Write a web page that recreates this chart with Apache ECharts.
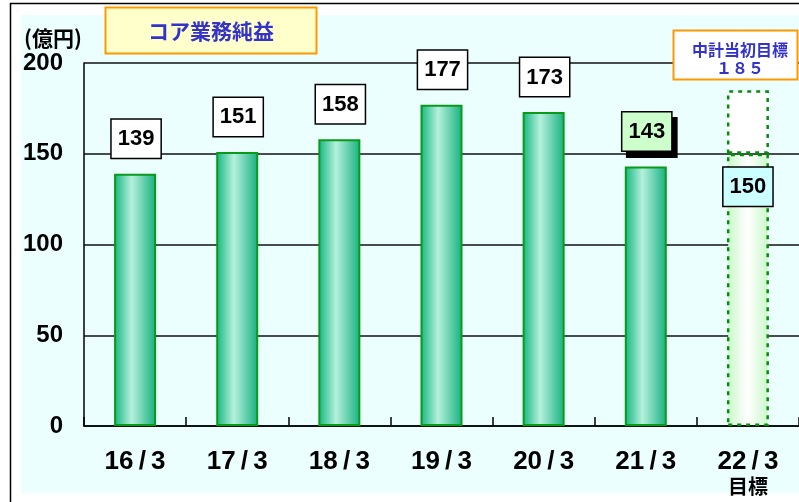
<!DOCTYPE html>
<html>
<head>
<meta charset="utf-8">
<script src="https://cdn.jsdelivr.net/npm/echarts@6/dist/echarts.min.js"></script>
<style>
html,body{margin:0;padding:0;background:#fff;}
#c{width:799px;height:502px;}
</style>
</head>
<body>
<div id="c"></div>
<script>
// ---- data ----
const categories = ['16/3', '17/3', '18/3', '19/3', '20/3', '21/3', '22/3'];
const actual = [139, 151, 158, 177, 173, 143, null];
const target = [null, null, null, null, null, null, 150];
const initialPlan = [null, null, null, null, null, null, 185];
const yTicks = [0, 50, 100, 150, 200];
const unitLabel = '(億円)';
const titleText = 'コア業務純益';
const planTitle = '中計当初目標';
const planValueText = '１８５';
const targetNote = '目標';

const FONT = '"Liberation Sans", Arial, sans-serif';
const CJK = '"Noto Sans CJK JP", "Liberation Sans", sans-serif';

const chart = echarts.init(document.getElementById('c'), null, {renderer: 'canvas'});

const barGrad = new echarts.graphic.LinearGradient(0, 0, 1, 0, [
  {offset: 0, color: '#12B67E'},
  {offset: 0.42, color: '#B6F0DD'},
  {offset: 1, color: '#14B07E'}
]);
const targetGrad = new echarts.graphic.LinearGradient(0, 0, 1, 0, [
  {offset: 0, color: '#C8F8C8'},
  {offset: 0.5, color: '#FFFFFF'},
  {offset: 1, color: '#C8F8C8'}
]);

const boxLabel = {
  show: true,
  position: 'top',
  distance: 16,
  offset: [1, 0],
  color: '#000',
  fontFamily: FONT,
  fontWeight: 'bold',
  fontSize: 22,
  lineHeight: 23,
  backgroundColor: '#FFFFFF',
  borderColor: '#000',
  borderWidth: 1.5,
  padding: [8, 6, 7, 6]
};

const lastActualIdx = actual.reduce((a, v, i) => (v != null ? i : a), -1);

const actualData = actual.map((v, i) => {
  if (v == null) return '-';
  if (i === lastActualIdx) {
    return {
      value: v,
      label: {backgroundColor: '#CCFFCC', shadowColor: '#000', shadowOffsetX: 5, shadowOffsetY: 6, shadowBlur: 0}
    };
  }
  return v;
});
const targetData = target.map(v => (v == null ? '-' : v));
const planData = initialPlan.map((v, i) => (v == null || target[i] == null ? '-' : v - target[i]));

const option = {
  animation: false,
  backgroundColor: '#FFFFFF',
  graphic: [
    {type: 'rect', z: -100, shape: {x: 10.5, y: 3.5, width: 820, height: 520}, style: {fill: '#FFFFFF', stroke: '#000', lineWidth: 1.5}, silent: true},
    {type: 'rect', z: -99, shape: {x: 21, y: 15, width: 800, height: 478}, style: {fill: '#EAFFFE'}, silent: true},
    {type: 'rect', z: 100, shape: {x: 105.5, y: 7.5, width: 211, height: 46}, style: {fill: '#FFFFCC', stroke: '#FF9900', lineWidth: 2}},
    {type: 'text', z: 101, x: 211, y: 31, style: {text: titleText, fill: '#3333CC', font: 'bold 21px ' + CJK, textAlign: 'center', textVerticalAlign: 'middle'}},
    {type: 'rect', z: 100, shape: {x: 673.5, y: 30.5, width: 124, height: 49}, style: {fill: '#FFFFFF', stroke: '#FF9900', lineWidth: 2}},
    {type: 'text', z: 101, x: 740, y: 50, style: {text: planTitle, fill: '#3333CC', font: 'bold 16px ' + CJK, textAlign: 'center', textVerticalAlign: 'middle'}},
    {type: 'text', z: 101, x: 740, y: 68, style: {text: planValueText, fill: '#3333CC', font: 'bold 16px ' + CJK, textAlign: 'center', textVerticalAlign: 'middle'}},
    {type: 'text', z: 101, x: 24, y: 38, style: {text: unitLabel, fill: '#000', font: 'bold 21px ' + CJK, textAlign: 'left', textVerticalAlign: 'middle'}}
  ],
  grid: {left: 84, top: 63, bottom: 76, right: -3, containLabel: false},
  xAxis: {
    type: 'category',
    data: categories,
    axisLine: {show: true, lineStyle: {color: '#000', width: 1.5}},
    axisTick: {show: true, inside: true, length: 9, lineStyle: {color: '#000', width: 1.5}},
    axisLabel: {
      interval: 0,
      margin: 23,
      color: '#000',
      formatter: (v, i) => {
        const t = v.replace('/', '\u2009/\u2009');
        return i === categories.length - 1 ? '{a|' + t + '}\n{b|' + targetNote + '}' : '{a|' + t + '}';
      },
      rich: {
        a: {fontFamily: FONT, fontWeight: 'bold', fontSize: 26, lineHeight: 26, color: '#000'},
        b: {fontFamily: CJK, fontWeight: 'bold', fontSize: 20, lineHeight: 22, color: '#000'}
      }
    }
  },
  yAxis: {
    type: 'value',
    min: yTicks[0],
    max: yTicks[yTicks.length - 1],
    interval: yTicks[1] - yTicks[0],
    axisLine: {show: true, lineStyle: {color: '#000', width: 1.5}},
    axisTick: {show: false},
    splitLine: {show: true, lineStyle: {color: '#111', width: 1.5}},
    axisLabel: {margin: 21, color: '#000', fontFamily: FONT, fontWeight: 'bold', fontSize: 24, padding: [8, 0, 0, 0]}
  },
  series: [
    {
      type: 'bar',
      stack: 's',
      barWidth: 42,
      data: actualData,
      itemStyle: {color: barGrad, borderColor: '#0A9A1A', borderWidth: 2},
      label: boxLabel
    },
    {
      type: 'bar',
      stack: 's',
      barWidth: 42,
      data: targetData,
      itemStyle: {color: targetGrad, borderColor: '#0A8A0A', borderWidth: 2.5, borderType: [4, 5]},
      label: Object.assign({}, boxLabel, {position: 'insideTop', distance: 14, offset: [0, 0], backgroundColor: '#CCFFFF'})
    },
    {
      type: 'bar',
      stack: 's',
      barWidth: 42,
      data: planData,
      itemStyle: {color: '#FFFFFF', borderColor: '#0A8A0A', borderWidth: 2.5, borderType: [4, 5]},
      label: {show: false}
    }
  ]
};
chart.setOption(option);
</script>
</body>
</html>
